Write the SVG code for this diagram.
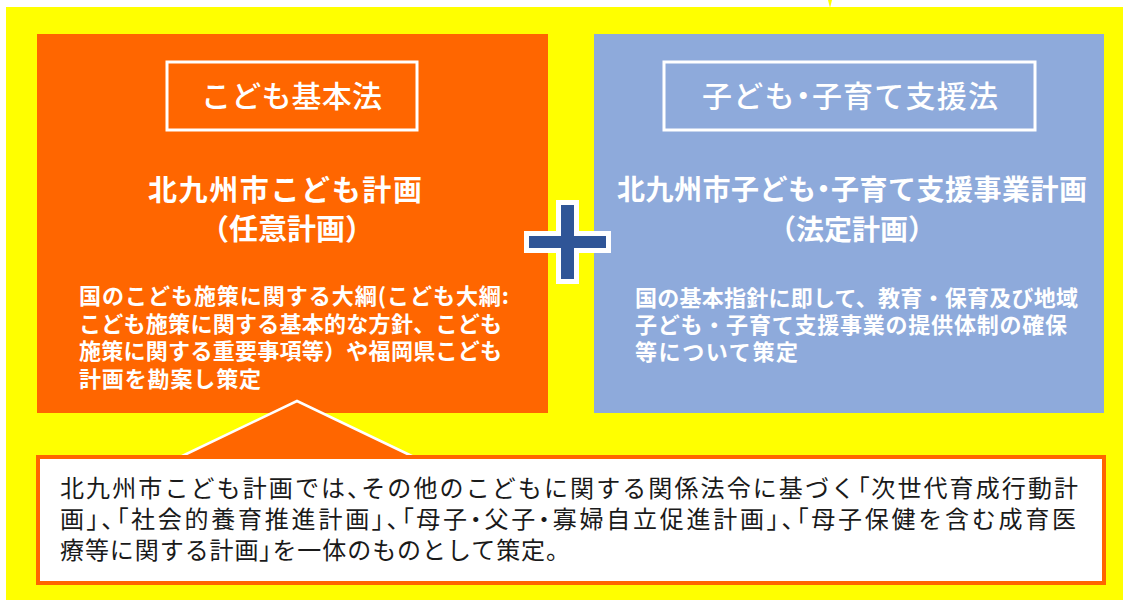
<svg xmlns="http://www.w3.org/2000/svg" width="1127" height="600" viewBox="0 0 1127 600">
<style>
.jp{font-family:"Noto Sans CJK JP","Noto Sans CJK SC",sans-serif}
.w{fill:#ffffff}
.lbl{font-size:30px;font-weight:500}
.ttl{font-size:29px;font-weight:700}
.body{font-size:22px;font-weight:700}
.call{font-size:24px;font-weight:400;fill:#1a1a1a}
.p{font-feature-settings:"palt"}
.frame{fill:none;stroke:#ffffff;stroke-width:3}
</style>
<rect x="0" y="0" width="1127" height="600" fill="#ffffff"/>
<rect x="6" y="7" width="1117" height="593" fill="#ffff00"/>
<polygon points="828,0 832,0 830,8" fill="#ffff00"/>

<g id="kodomo-plan">
<rect x="37" y="34" width="511" height="379" fill="#ff6600"/>
<rect class="frame" x="167" y="62" width="250" height="68"/>
<text class="jp w lbl" x="201" y="107" textLength="181" lengthAdjust="spacing">こども基本法</text>
<text class="jp w ttl" x="148" y="201" textLength="274" lengthAdjust="spacing">北九州市こども計画</text>
<text class="jp w ttl" x="287" y="240" text-anchor="middle">（任意計画）</text>
<text class="jp w body" x="79" y="304" textLength="430" lengthAdjust="spacing">国のこども施策に関する大綱(こども大綱:</text>
<text class="jp w body" x="79" y="332" textLength="423" lengthAdjust="spacing">こども施策に関する基本的な方針、こども</text>
<text class="jp w body" x="79" y="359" textLength="423" lengthAdjust="spacing">施策に関する重要事項等）や福岡県こども</text>
<text class="jp w body" x="79" y="387" textLength="182" lengthAdjust="spacing">計画を勘案し策定</text>
</g>

<g id="shien-plan">
<rect x="594" y="34" width="510" height="379" fill="#8eaadb"/>
<rect class="frame" x="664" y="62" width="371" height="68"/>
<text class="jp w lbl" x="702" y="107" textLength="296" lengthAdjust="spacing">子ども<tspan class="p">・</tspan>子育て支援法</text>
<text class="jp w ttl" x="617" y="200" textLength="470" lengthAdjust="spacing" style="font-size:28px">北九州市子ども<tspan class="p">・</tspan>子育て支援事業計画</text>
<text class="jp w ttl" x="852" y="240" text-anchor="middle" style="font-size:28px">（法定計画）</text>
<text class="jp w body" x="635" y="306" textLength="443" lengthAdjust="spacing">国の基本指針に即して、教育・保育及び地域</text>
<text class="jp w body" x="635" y="333" textLength="432" lengthAdjust="spacing">子ども・子育て支援事業の提供体制の確保</text>
<text class="jp w body" x="635" y="360" textLength="163" lengthAdjust="spacing">等について策定</text>
</g>

<g id="plus">
<rect x="524" y="231" width="87" height="22" fill="#ffffff"/>
<rect x="556" y="200" width="23" height="84" fill="#ffffff"/>
<rect x="529" y="236" width="77" height="12" fill="#2f5597"/>
<rect x="561" y="205" width="13" height="74" fill="#2f5597"/>
</g>

<g id="connectors">
<polygon points="178,458 297,401 416,458" fill="#ff6600" stroke="#ffffff" stroke-width="2.5" stroke-linejoin="miter"/>
</g>

<g id="note">
<rect x="38" y="457" width="1066" height="126" fill="#ffffff" stroke="#ff6600" stroke-width="4"/>
<text class="jp call" x="60" y="497" textLength="1018" lengthAdjust="spacing">北九州市こども計画では<tspan class="p">、</tspan>その他のこどもに関する関係法令に基づく<tspan class="p">「</tspan>次世代育成行動計</text>
<text class="jp call" x="60" y="528" textLength="1016" lengthAdjust="spacing">画<tspan class="p">」、「</tspan>社会的養育推進計画<tspan class="p">」、「</tspan>母子<tspan class="p">・</tspan>父子<tspan class="p">・</tspan>寡婦自立促進計画<tspan class="p">」、「</tspan>母子保健を含む成育医</text>
<text class="jp call" x="60" y="559" textLength="510" lengthAdjust="spacing">療等に関する計画<tspan class="p">」</tspan>を一体のものとして策定。</text>
</g>
</svg>
